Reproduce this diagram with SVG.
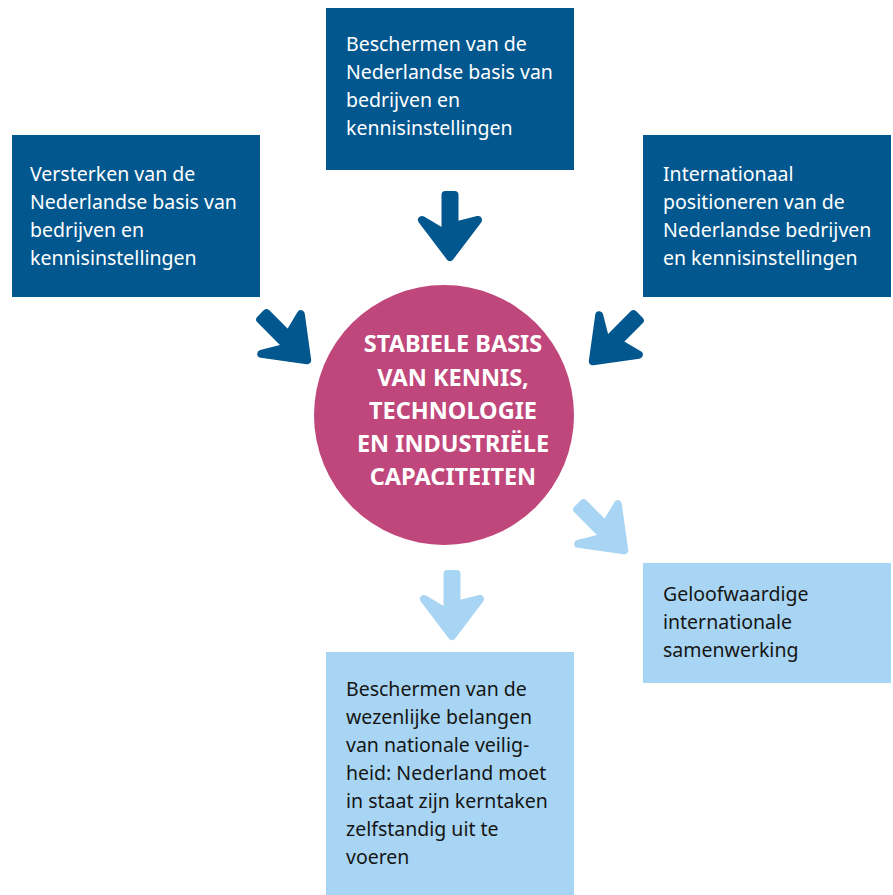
<svg xmlns="http://www.w3.org/2000/svg" width="893" height="895" viewBox="0 0 893 895">
<defs>
<style>
.dark{fill:#02578E}
.light{fill:#A8D5F3}
.t{font-family:"Noto Sans","Open Sans",sans-serif;font-size:19.5px}
.tw{fill:#ffffff}
.tb{fill:#151515}
.c{font-family:"Noto Sans","Open Sans",sans-serif;font-size:23.5px;font-weight:bold;fill:#ffffff;text-anchor:middle}
.ad{fill:#02578E;stroke:#02578E;stroke-width:8;stroke-linejoin:round}
.al{fill:#A8D5F3;stroke:#A8D5F3;stroke-width:8;stroke-linejoin:round}
</style>
<path id="arr" d="M -4.5,-66 L 4.5,-66 L 4.5,-35 L 28,-41 L 0,-4 L -28,-41 L -4.5,-27 Z"/>
</defs>
<rect width="893" height="895" fill="#ffffff"/>
<g id="connectors">
<use href="#arr" class="ad" transform="translate(450,261)"/>
<use href="#arr" class="ad" transform="translate(310,363) rotate(-45)"/>
<use href="#arr" class="ad" transform="translate(590,364) rotate(45)"/>
<use href="#arr" class="al" transform="translate(627,553) rotate(-45)"/>
<use href="#arr" class="al" transform="translate(452,640)"/>
</g>
<g id="node-top">
<rect class="dark" x="326" y="8" width="248" height="162"/>
<text class="t tw"><tspan x="346" y="51">Beschermen van de</tspan><tspan x="346" y="79">Nederlandse basis van</tspan><tspan x="346" y="107">bedrijven en</tspan><tspan x="346" y="135">kennisinstellingen</tspan></text>
</g>
<g id="node-left">
<rect class="dark" x="12" y="135" width="248" height="162"/>
<text class="t tw"><tspan x="30" y="181">Versterken van de</tspan><tspan x="30" y="209">Nederlandse basis van</tspan><tspan x="30" y="237">bedrijven en</tspan><tspan x="30" y="265">kennisinstellingen</tspan></text>
</g>
<g id="node-right">
<rect class="dark" x="643" y="135" width="248" height="162"/>
<text class="t tw"><tspan x="663" y="181">Internationaal</tspan><tspan x="663" y="209">positioneren van de</tspan><tspan x="663" y="237">Nederlandse bedrijven</tspan><tspan x="663" y="265">en kennisinstellingen</tspan></text>
</g>
<g id="node-center">
<circle cx="444" cy="415" r="130" fill="#C0477B"/>
<text class="c"><tspan x="453" y="352">STABIELE BASIS</tspan><tspan x="453" y="386">VAN KENNIS,</tspan><tspan x="453" y="419">TECHNOLOGIE</tspan><tspan x="453" y="452">EN INDUSTRIËLE</tspan><tspan x="453" y="485">CAPACITEITEN</tspan></text>
</g>
<g id="node-bottom-right">
<rect class="light" x="643" y="563" width="248" height="120"/>
<text class="t tb"><tspan x="663" y="601">Geloofwaardige</tspan><tspan x="663" y="629">internationale</tspan><tspan x="663" y="657">samenwerking</tspan></text>
</g>
<g id="node-bottom">
<rect class="light" x="326" y="652" width="248" height="243"/>
<text class="t tb"><tspan x="346" y="696">Beschermen van de</tspan><tspan x="346" y="724">wezenlijke belangen</tspan><tspan x="346" y="752">van nationale veilig-</tspan><tspan x="346" y="780">heid: Nederland moet</tspan><tspan x="346" y="808">in staat zijn kerntaken</tspan><tspan x="346" y="836">zelfstandig uit te</tspan><tspan x="346" y="864">voeren</tspan></text>
</g>
</svg>
